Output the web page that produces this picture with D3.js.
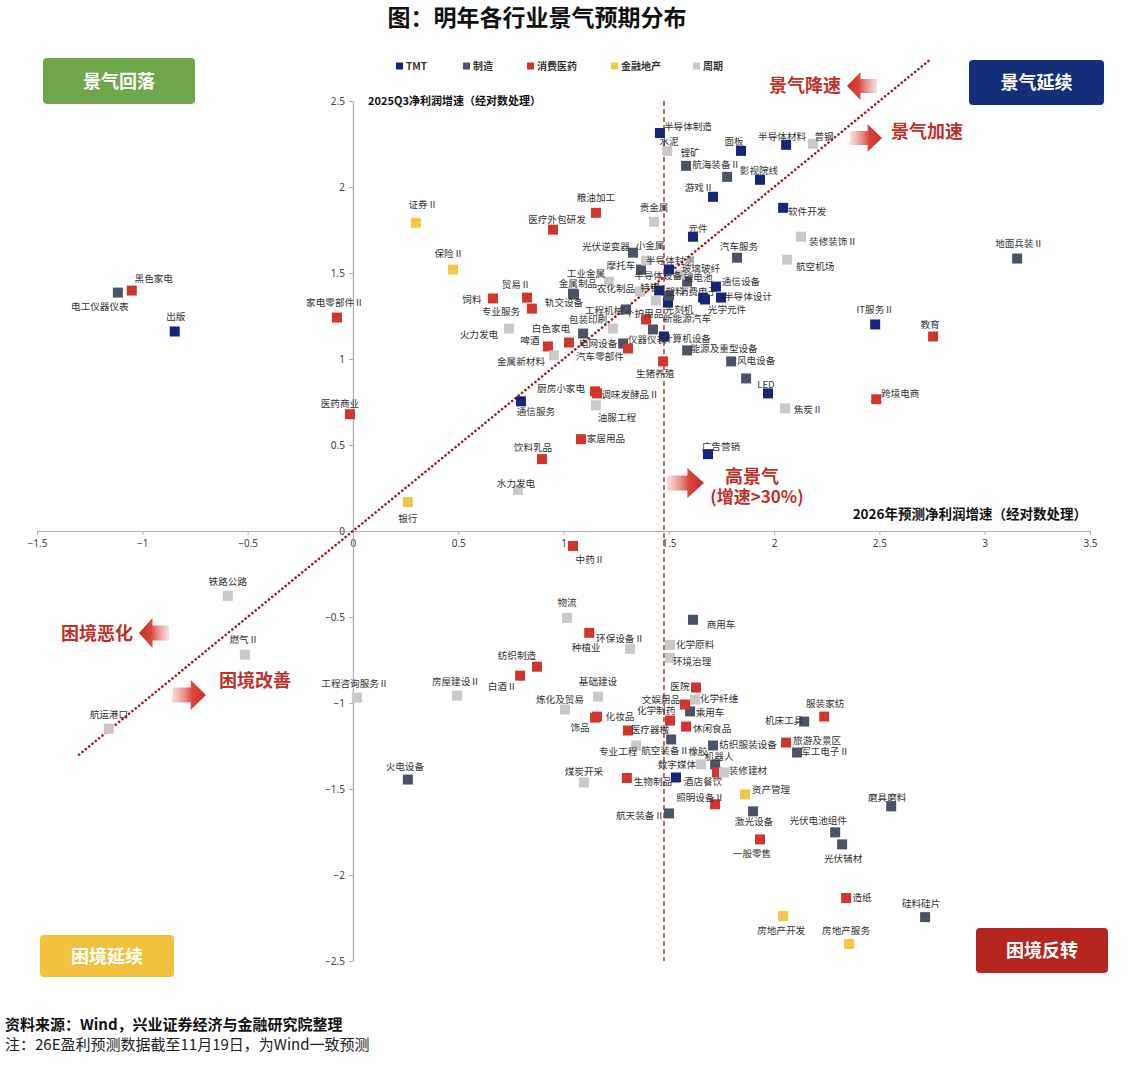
<!DOCTYPE html>
<html><head><meta charset="utf-8">
<script src="https://cdn.jsdelivr.net/npm/d3@7"></script>
<style>
body{margin:0;background:#fff;}
svg{font-family:"Noto Sans CJK SC","Noto Sans",sans-serif;}
</style></head>
<body>
<svg id="c" width="1128" height="1080"></svg>
<script>
// ---- data: [name, x(2026E growth, log), y(2025Q3 growth, log)] ----
const seriesNames = ["TMT","制造","消费医药","金融地产","周期"];
const tmt = [
 ["半导体制造",1.458,2.314],["面板",1.843,2.210],["半导体材料",2.057,2.245],["影视院线",1.933,2.042],
 ["游戏Ⅱ",1.710,1.943],["软件开发",2.043,1.879],["元件",1.615,1.711],["IT服务Ⅱ",2.480,1.201],
 ["LED",1.971,0.800],["计算机设备",1.477,1.131],["通信服务",0.798,0.754],["广告营销",1.686,0.447],
 ["出版",-0.846,1.160],["半导体封测",1.501,1.520],["半导体设备",1.454,1.398],["通信设备",1.724,1.421],
 ["消费电子",1.663,1.357],["半导体设计",1.748,1.357],["光学元件",1.672,1.346],["光刻机",1.496,1.328],
 ["数字媒体",1.534,-1.433]
];
const mfg = [
 ["锂矿",1.582,2.123],["航海装备Ⅱ",1.777,2.059],["地面兵装Ⅱ",3.154,1.584],["",1.867,0.887],
 ["风电设备",1.796,0.986],["能源及重型设备",1.587,1.050],["仪器仪表",1.283,1.090],["电网设备",1.093,1.148],
 ["电工仪器仪表",-1.116,1.386],["光伏逆变器",1.330,1.618],["汽车服务",1.824,1.589],["摩托车",1.368,1.520],
 ["金属制品",1.045,1.380],["轨交设备",1.050,1.375],["锂电池",1.587,1.450],["塑料",1.501,1.369],
 ["工程机械",1.297,1.288],["新能源汽车",1.425,1.172],
 ["商用车",1.615,-0.516],["乘用车",1.601,-1.049],["纺织服装设备",1.710,-1.247],["航空装备Ⅱ",1.511,-1.212],
 ["机器人",1.720,-1.358],["航天装备Ⅱ",1.501,-1.642],["激光设备",1.900,-1.630],["机床工具",2.143,-1.108],
 ["军工电子Ⅱ",2.109,-1.288],["磨具磨料",2.556,-1.601],["光伏电池组件",2.290,-1.752],["光伏辅材",2.323,-1.822],
 ["硅料硅片",2.717,-2.245],["火电设备",0.261,-1.445]
];
const cons = [
 ["粮油加工",1.154,1.850],["医疗外包研发",0.950,1.752],["教育",2.755,1.131],["跨境电商",2.485,0.766],
 ["汽车零部件",1.306,1.061],["生猪养殖",1.473,0.986],["厨房小家电",1.150,0.812],["调味发酵品Ⅱ",1.159,0.800],
 ["家居用品",1.083,0.534],["饮料乳品",0.898,0.418],["啤酒",0.926,1.073],["白色家电",1.026,1.096],
 ["专业服务",0.850,1.293],["饲料",0.665,1.352],["贸易Ⅱ",0.827,1.357],["家电零部件Ⅱ",-0.076,1.241],
 ["医药商业",-0.014,0.679],["黑色家电",-1.050,1.398],["个护用品",1.392,1.230],
 ["中药Ⅱ",1.045,-0.087],["种植业",1.122,-0.592],["纺织制造",0.874,-0.789],["白酒Ⅱ",0.794,-0.841],
 ["医院",1.629,-0.910],["饰品",1.150,-1.085],["化妆品",1.159,-1.079],["医疗器械",1.306,-1.160],
 ["文娱用品",1.577,-1.009],["化学制药",1.506,-1.102],["休闲食品",1.582,-1.137],["生物制品",1.301,-1.436],
 ["酒店餐饮",1.729,-1.404],["照明设备Ⅱ",1.720,-1.589],["服装家纺",2.238,-1.079],["旅游及景区",2.057,-1.230],
 ["一般零售",1.933,-1.793],["造纸",2.342,-2.134]
];
const fin = [
 ["证券Ⅱ",0.299,1.792],["保险Ⅱ",0.475,1.520],["银行",0.261,0.168],["资产管理",1.862,-1.531],
 ["房地产开发",2.043,-2.239],["房地产服务",2.356,-2.401]
];
const cyc = [
 ["水泥",1.492,2.210],["普钢",2.185,2.251],["贵金属",1.430,1.798],["装修装饰Ⅱ",2.128,1.711],
 ["航空机场",2.062,1.578],["焦炭Ⅱ",2.052,0.713],["油服工程",1.154,0.731],["水力发电",0.784,0.238],
 ["金属新材料",0.955,1.021],["火力发电",0.741,1.177],["小金属",1.392,1.572],["玻璃玻纤",1.553,1.491],
 ["工业金属",1.216,1.450],["农化制品",1.363,1.392],["特钢",1.439,1.340],["包装印刷",1.235,1.177],
 ["物流",1.017,-0.505],["环保设备Ⅱ",1.316,-0.685],["化学原料",1.506,-0.662],["环境治理",1.506,-0.737],
 ["房屋建设Ⅱ",0.494,-0.957],["基础建设",1.164,-0.963],["炼化及贸易",1.007,-1.038],["专业工程",1.345,-1.247],
 ["橡胶",1.653,-1.357],["煤炭开采",1.097,-1.462],["装修建材",1.762,-1.404],["化学纤维",1.625,-0.980],
 ["铁路公路",-0.594,-0.377],["燃气Ⅱ",-0.513,-0.719],["航运港口",-1.159,-1.149],["工程咨询服务Ⅱ",0.019,-0.969]
];
const xTicks = [-1.5,-1,-0.5,0,0.5,1,1.5,2,2.5,3,3.5];
const yTicks = [-2.5,-2,-1.5,-1,-0.5,0,0.5,1,1.5,2,2.5];
const threshold = Math.log10(30); // 增速>30%
const diagRange = [-1.3, 2.74];

// ---- layout: label centre offset from its marker (px) ----
const labelOff = {
 "半导体制造":[28,-6],"水泥":[2,-9],"锂矿":[4,-13],"航海装备Ⅱ":[-11,-12],"面板":[-7,-9],"半导体材料":[-4,-8],
 "普钢":[11,-7],"影视院线":[-1,-9],"游戏Ⅱ":[-14,-9],"粮油加工":[0,-15],"医疗外包研发":[4,-10],"贵金属":[0,-14],
 "软件开发":[24,4],"元件":[5,-8],"装修装饰Ⅱ":[32,5],"航空机场":[28,7],"地面兵装Ⅱ":[2,-15],"IT服务Ⅱ":[0,-15],
 "教育":[-3,-12],"LED":[-2,-9],"跨境电商":[24,-6],"焦炭Ⅱ":[23,1],"风电设备":[25,-1],"能源及重型设备":[37,-2],
 "计算机设备":[23,2],"仪器仪表":[24,-4],"汽车零部件":[-28,8],"电网设备":[15,10],"生猪养殖":[-8,12],
 "厨房小家电":[-34,-3],"调味发酵品Ⅱ":[33,1],"油服工程":[21,12],"通信服务":[15,10],"家居用品":[25,-1],
 "饮料乳品":[-9,-12],"广告营销":[13,-8],"水力发电":[-2,-7],"银行":[0,16],"啤酒":[-18,-6],"白色家电":[-18,-14],
 "金属新材料":[-33,6],"火力发电":[-30,6],"专业服务":[-31,3],"饲料":[-21,1],"贸易Ⅱ":[-11,-13],"保险Ⅱ":[-4,-16],
 "证券Ⅱ":[7,-18],"家电零部件Ⅱ":[-2,-15],"医药商业":[-10,-11],"黑色家电":[22,-12],"电工仪器仪表":[-18,14],
 "出版":[1,-15],
 "光伏逆变器":[-27,-6],"小金属":[4,-15],"汽车服务":[2,-11],"摩托车":[-20,-4],"半导体封测":[1,-9],
 "玻璃玻纤":[21,-6],"工业金属":[-23,-8],"半导体设备":[-1,-15],"锂电池":[11,-4],"通信设备":[25,-5],
 "金属制品":[5,-10],"轨交设备":[-10,8],"农化制品":[-24,-3],"特钢":[-6,-13],"塑料":[6,-4],"消费电子":[-5,-6],
 "半导体设计":[27,-1],"光学元件":[22,10],"工程机械":[-22,1],"个护用品":[-2,-6],"光刻机":[11,7],
 "新能源汽车":[34,-11],"包装印刷":[-25,-9],
 "中药Ⅱ":[17,14],"物流":[0,-15],"种植业":[-3,15],"环保设备Ⅱ":[-10,-10],"商用车":[28,5],"化学原料":[25,0],
 "环境治理":[22,4],"纺织制造":[-20,-11],"白酒Ⅱ":[-18,11],"房屋建设Ⅱ":[-1,-14],"基础建设":[0,-15],"医院":[-16,-1],
 "铁路公路":[0,-14],"燃气Ⅱ":[-1,-15],"航运港口":[0,-14],"工程咨询服务Ⅱ":[-2,-14],"火电设备":[-3,-13],
 "炼化及贸易":[-5,-10],"饰品":[-15,10],"化妆品":[23,0],"医疗器械":[22,-1],"文娱用品":[-24,-5],"化学纤维":[24,-1],
 "化学制药":[-14,-10],"乘用车":[20,1],"休闲食品":[26,2],"纺织服装设备":[35,-1],"航空装备Ⅱ":[-6,11],
 "专业工程":[-18,6],"橡胶":[-3,-13],"机器人":[4,-8],"数字媒体":[1,-13],"煤炭开采":[0,-11],"生物制品":[26,4],
 "酒店餐饮":[-14,9],"装修建材":[24,-2],"照明设备Ⅱ":[-15,-7],"资产管理":[26,-5],"航天装备Ⅱ":[-29,2],
 "激光设备":[1,10],"服装家纺":[1,-13],"机床工具":[-20,-1],"旅游及景区":[31,-2],"军工电子Ⅱ":[28,-1],
 "磨具磨料":[-4,-9],"光伏电池组件":[-17,-12],"光伏辅材":[1,14],"一般零售":[-8,14],"造纸":[16,-1],
 "硅料硅片":[-4,-14],"房地产开发":[-2,14],"房地产服务":[-3,-13]
};
const colors = {"TMT":"#14257a","制造":"#4b5466","消费医药":"#d2352c","金融地产":"#f3c746","周期":"#c9c9c9"};

const svg = d3.select("#c");
const x = d3.scaleLinear().domain([-1.5,3.5]).range([37,1090]);
const y = d3.scaleLinear().domain([-2.5,2.5]).range([961,101]);

// title
svg.append("text").attr("x",537).attr("y",26).attr("text-anchor","middle")
 .attr("font-size",23).attr("font-weight","bold").attr("fill","#111").text("图：明年各行业景气预期分布");

// axes
const fmt = d => d3.format("")(d);
const gx = svg.append("g").attr("transform",`translate(0,${y(0)})`)
 .call(d3.axisBottom(x).tickValues(xTicks).tickSize(4).tickSizeOuter(0).tickFormat(fmt));
const gy = svg.append("g").attr("transform",`translate(${x(0)},0)`)
 .call(d3.axisLeft(y).tickValues(yTicks).tickSize(4).tickSizeOuter(0).tickFormat(fmt));
[gx,gy].forEach(g=>{
 g.select(".domain").attr("stroke","#b0b0b0").attr("stroke-width",1.2);
 g.selectAll(".tick line").attr("stroke","#b0b0b0");
 g.selectAll(".tick text").attr("font-size",10).attr("fill","#444").attr("font-family","Noto Sans, sans-serif");
});
gx.selectAll(".tick text").attr("dy","0.9em");
gy.selectAll(".tick text").attr("dx","-1px");

// axis titles
svg.append("text").attr("x",368).attr("y",105).attr("font-size",11).attr("font-weight","bold").attr("fill","#111")
 .text("2025Q3净利润增速（经对数处理）");
svg.append("text").attr("x",1087).attr("y",519).attr("text-anchor","end").attr("font-size",13.5).attr("font-weight","bold").attr("fill","#111")
 .text("2026年预测净利润增速（经对数处理）");

// threshold line
svg.append("line").attr("x1",x(threshold)).attr("x2",x(threshold)).attr("y1",y(2.5)).attr("y2",y(-2.5))
 .attr("stroke","#a8302c").attr("stroke-width",1.4).attr("stroke-dasharray","5,3");
// diagonal y=x
svg.append("line").attr("x1",x(diagRange[0])).attr("y1",y(diagRange[0])).attr("x2",x(diagRange[1])).attr("y2",y(diagRange[1]))
 .attr("stroke","#9e1f22").attr("stroke-width",2.6).attr("stroke-dasharray","0.1,4.2").attr("stroke-linecap","round");

// legend
const legX = [396,463,527,611,693];
seriesNames.forEach((s,i)=>{
 svg.append("rect").attr("x",legX[i]).attr("y",62.5).attr("width",7).attr("height",7).attr("fill",colors[s]);
 svg.append("text").attr("x",legX[i]+10).attr("y",70).attr("font-size",10).attr("font-weight","bold").attr("fill","#333").text(s);
});

// points
const all = [];
[[tmt,"TMT"],[mfg,"制造"],[cons,"消费医药"],[fin,"金融地产"],[cyc,"周期"]].forEach(([arr,s])=>arr.forEach(d=>all.push({name:d[0],x:d[1],y:d[2],s})));
const S = 10;
svg.append("g").selectAll("rect").data(all).join("rect")
 .attr("x",d=>x(d.x)-S/2).attr("y",d=>y(d.y)-S/2).attr("width",S).attr("height",S)
 .attr("fill",d=>colors[d.s]);

svg.append("g").selectAll("text").data(all.filter(d=>d.name)).join("text")
 .attr("x",d=>x(d.x)+(labelOff[d.name]||[0,-12])[0])
 .attr("y",d=>y(d.y)+(labelOff[d.name]||[0,-12])[1]+3.5)
 .attr("text-anchor","middle")
 .attr("font-size",9.6).attr("fill","#333").text(d=>d.name);

// quadrant boxes
const boxes = [
 {t:"景气回落",x:43,y:58,w:152,h:46,c:"#6fa84b"},
 {t:"景气延续",x:969,y:60,w:135,h:45,c:"#14307a"},
 {t:"困境延续",x:40,y:935,w:134,h:42,c:"#f2c23f"},
 {t:"困境反转",x:976,y:928,w:132,h:45,c:"#b5271e"}
];
boxes.forEach(b=>{
 svg.append("rect").attr("x",b.x).attr("y",b.y).attr("width",b.w).attr("height",b.h).attr("rx",4).attr("fill",b.c);
 svg.append("text").attr("x",b.x+b.w/2).attr("y",b.y+b.h/2+6.5).attr("text-anchor","middle")
  .attr("font-size",18).attr("font-weight","bold").attr("fill","#fff").text(b.t);
});

// gradient arrows
const defs = svg.append("defs");
function arrow(id,x0,cy,len,h,dir){
 const g = defs.append("linearGradient").attr("id",id).attr("gradientUnits","userSpaceOnUse")
  .attr("x1",x0).attr("x2",x0+dir*len).attr("y1",cy).attr("y2",cy);
 g.append("stop").attr("offset","0").attr("stop-color","#f6c9c6").attr("stop-opacity",0.6);
 g.append("stop").attr("offset","0.6").attr("stop-color","#d8453c");
 g.append("stop").attr("offset","1").attr("stop-color","#c9302a");
 const bh = h*0.5, head = len*0.45;
 const pts = [[0,-bh/2],[len-head,-bh/2],[len-head,-h/2],[len,0],[len-head,h/2],[len-head,bh/2],[0,bh/2]]
  .map(p=>[x0+dir*p[0],cy+p[1]]);
 svg.append("path").attr("d",d3.line()(pts)+"Z").attr("fill",`url(#${id})`);
}
arrow("a1",877,86,30,28,-1);
arrow("a2",850,138,32,28,1);
arrow("a3",667,483,37,30,1);
arrow("a4",169,633,30,30,-1);
arrow("a5",172,695,34,30,1);

const red = "#c0312a";
const ann = [
 {t:"景气降速",x:805,y:92,s:18},{t:"景气加速",x:927,y:138,s:18},{t:"高景气",x:752,y:483,s:18},
 {t:"(增速>30%)",x:757,y:503,s:17},{t:"困境恶化",x:97,y:640,s:18},{t:"困境改善",x:255,y:687,s:18}
];
ann.forEach(a=>svg.append("text").attr("x",a.x).attr("y",a.y).attr("text-anchor","middle").attr("font-size",a.s)
 .attr("font-weight","bold").attr("fill",red).text(a.t));

// footer
svg.append("text").attr("x",5).attr("y",1030).attr("font-size",15).attr("font-weight","bold").attr("fill","#111")
 .text("资料来源：Wind，兴业证券经济与金融研究院整理");
svg.append("text").attr("x",5).attr("y",1050).attr("font-size",15).attr("fill","#222")
 .text("注：26E盈利预测数据截至11月19日，为Wind一致预测");
</script>
</body></html>
